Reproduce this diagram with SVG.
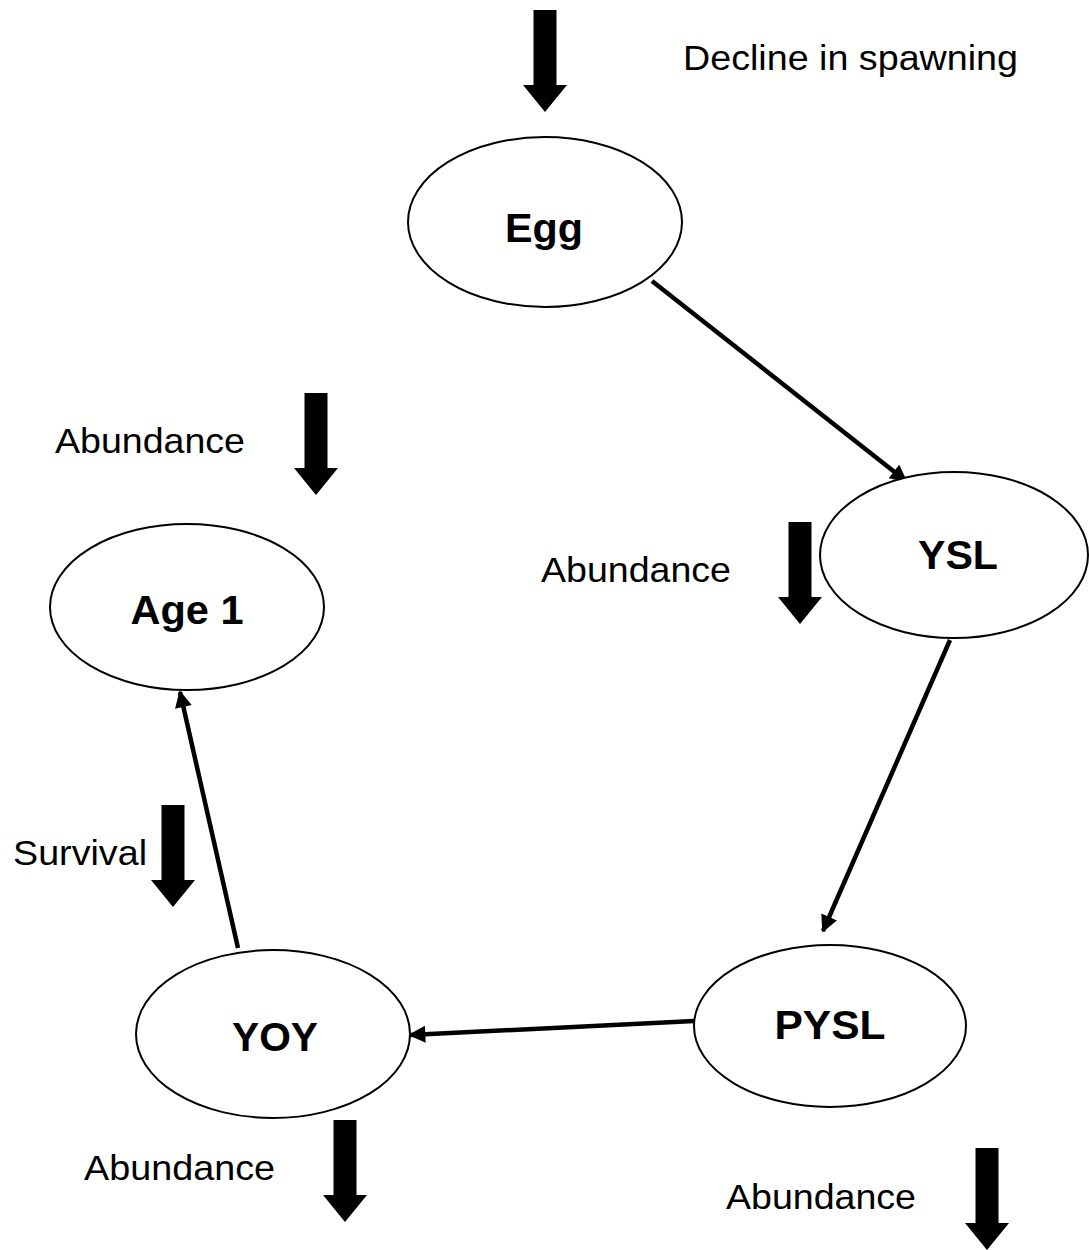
<svg xmlns="http://www.w3.org/2000/svg" width="1089" height="1250" viewBox="0 0 1089 1250">
  <style>
    .node ellipse { fill: #ffffff; stroke: #000000; stroke-width: 2; }
    .lbl { font-family: "Liberation Sans", Arial, sans-serif; font-weight: bold; font-size: 40px; fill: #000; text-anchor: middle; }
    .txt { font-family: "Liberation Sans", Arial, sans-serif; font-size: 35px; fill: #000; }
    .edge { fill: none; stroke: #000; stroke-width: 4.5; marker-end: url(#head); }
    .block { fill: #000; }
  </style>
  <defs>
    <marker id="head" viewBox="0 0 10 10" refX="9" refY="5" markerWidth="20" markerHeight="17" markerUnits="userSpaceOnUse" orient="auto">
      <path d="M0,0 L10,5 L0,10 Z" fill="#000"/>
    </marker>
    <!-- thick downward block arrow, origin at top-centre of the shaft -->
    <path id="down" d="M-11.5,0 H11.5 V75 H22 L0,102 L-22,75 H-11.5 Z"/>
  </defs>

  <rect width="1089" height="1250" fill="#ffffff"/>

  <!-- connectors between stages -->
  <g id="connectors">
    <line class="edge" x1="652" y1="281" x2="906" y2="481"/>
    <line class="edge" x1="950" y1="640" x2="823" y2="931"/>
    <line class="edge" x1="694" y1="1021" x2="410" y2="1035"/>
    <line class="edge" x1="238" y1="948" x2="180" y2="692"/>
  </g>

  <!-- life-stage nodes -->
  <g id="egg" class="node">
    <ellipse cx="545" cy="222" rx="137" ry="85"/>
    <text class="lbl" x="544" y="242" textLength="78" lengthAdjust="spacingAndGlyphs">Egg</text>
  </g>
  <g id="ysl" class="node">
    <ellipse cx="954" cy="555" rx="134" ry="83"/>
    <text class="lbl" x="958" y="569" textLength="80" lengthAdjust="spacingAndGlyphs">YSL</text>
  </g>
  <g id="age1" class="node">
    <ellipse cx="187" cy="607" rx="137" ry="83"/>
    <text class="lbl" x="187" y="624" textLength="113" lengthAdjust="spacingAndGlyphs">Age 1</text>
  </g>
  <g id="yoy" class="node">
    <ellipse cx="273" cy="1034" rx="137" ry="84"/>
    <text class="lbl" x="275" y="1051" textLength="86" lengthAdjust="spacingAndGlyphs">YOY</text>
  </g>
  <g id="pysl" class="node">
    <ellipse cx="830" cy="1026" rx="136" ry="81"/>
    <text class="lbl" x="830" y="1039" textLength="111" lengthAdjust="spacingAndGlyphs">PYSL</text>
  </g>

  <!-- decline indicators -->
  <g id="indicators">
    <use href="#down" class="block" x="545" y="10"/>
    <text class="txt" x="683" y="70" textLength="335" lengthAdjust="spacingAndGlyphs">Decline in spawning</text>

    <use href="#down" class="block" x="316" y="393"/>
    <text class="txt" x="55" y="453" textLength="190" lengthAdjust="spacingAndGlyphs">Abundance</text>

    <use href="#down" class="block" x="800" y="522"/>
    <text class="txt" x="541" y="582" textLength="190" lengthAdjust="spacingAndGlyphs">Abundance</text>

    <use href="#down" class="block" x="173" y="805"/>
    <text class="txt" x="13" y="865" textLength="134" lengthAdjust="spacingAndGlyphs">Survival</text>

    <use href="#down" class="block" x="345" y="1120"/>
    <text class="txt" x="84" y="1180" textLength="191" lengthAdjust="spacingAndGlyphs">Abundance</text>

    <use href="#down" class="block" x="987" y="1148"/>
    <text class="txt" x="726" y="1209" textLength="190" lengthAdjust="spacingAndGlyphs">Abundance</text>
  </g>
</svg>
